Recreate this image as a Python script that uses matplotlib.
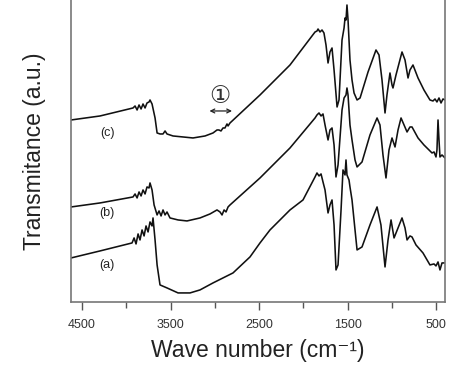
import matplotlib
matplotlib.use("Agg")
from matplotlib import pyplot as plt
from matplotlib.ticker import FixedLocator

plt.rcParams['font.family'] = ['Liberation Sans', 'DejaVu Sans']

# spectrum (c)
wn_c = [4624, 4297, 3924, 3901, 3878, 3856, 3833, 3811, 3788, 3766, 3743, 3732,
        3709, 3675, 3652, 3619, 3585, 3562, 3540, 3472, 3359, 3246, 3110, 3020,
        2975, 2953, 2930, 2907, 2885, 2862, 2850, 2828, 2489, 2150, 1867, 1845,
        1833, 1811, 1788, 1766, 1743, 1720, 1698, 1675, 1652, 1618, 1596, 1562,
        1539, 1528, 1517, 1506, 1494, 1472, 1449, 1426, 1392, 1358, 1268, 1178,
        1144, 1110, 1076, 1054, 1020, 997, 986, 952, 884, 850, 816, 794, 760, 703,
        636, 568, 534, 511, 489, 466, 443, 421, 398]
t_c = [182, 186, 194, 196, 192, 197, 193, 198, 194, 199, 200, 202, 198, 184, 169,
       168, 168, 171, 168, 166, 165, 164, 166, 169, 172, 172, 171, 174, 174, 178,
       176, 179, 207, 237, 270, 271, 273, 270, 272, 269, 257, 239, 250, 254, 232,
       195, 202, 262, 274, 284, 282, 297, 282, 242, 222, 209, 202, 204, 230, 252,
       247, 222, 189, 207, 229, 217, 214, 227, 250, 242, 224, 232, 237, 224, 212,
       202, 201, 203, 200, 204, 199, 203, 202]

# spectrum (b)
wn_b = [4624, 4297, 3924, 3901, 3878, 3856, 3833, 3811, 3788, 3766, 3743, 3732,
        3709, 3686, 3652, 3630, 3607, 3585, 3562, 3540, 3506, 3415, 3314, 3167,
        3054, 2975, 2941, 2918, 2895, 2873, 2850, 2828, 2489, 2150, 1867, 1845,
        1822, 1799, 1777, 1754, 1720, 1698, 1675, 1652, 1630, 1607, 1562, 1539,
        1517, 1506, 1494, 1472, 1449, 1415, 1392, 1336, 1246, 1166, 1133, 1099,
        1065, 1031, 997, 963, 929, 895, 861, 827, 794, 771, 703, 636, 579, 545,
        522, 500, 489, 477, 466, 455, 432, 398]
t_b = [95, 99, 105, 108, 104, 110, 106, 112, 108, 115, 114, 119, 112, 97, 87, 91,
       86, 92, 87, 90, 84, 82, 81, 84, 88, 92, 90, 87, 92, 90, 95, 97, 124, 154,
       184, 187, 189, 186, 188, 177, 162, 172, 174, 157, 125, 137, 192, 204, 207,
       214, 207, 177, 162, 142, 135, 140, 167, 184, 177, 147, 124, 152, 164, 155,
       172, 184, 177, 170, 175, 175, 164, 157, 152, 149, 150, 145, 152, 182, 162,
       145, 147, 144]

# spectrum (a)
wn_a = [4624, 4297, 3935, 3912, 3890, 3867, 3845, 3822, 3799, 3777, 3754, 3732,
        3709, 3698, 3675, 3652, 3619, 3540, 3415, 3280, 3167, 3020, 2794, 2602,
        2489, 2376, 2150, 2003, 1867, 1845, 1822, 1799, 1777, 1754, 1720, 1698,
        1675, 1652, 1630, 1607, 1573, 1551, 1528, 1517, 1506, 1483, 1472, 1449,
        1415, 1392, 1336, 1246, 1166, 1122, 1076, 1042, 1008, 974, 929, 884, 850,
        827, 794, 771, 726, 647, 568, 522, 500, 477, 455, 432, 398]
t_a = [44, 51, 59, 64, 58, 68, 62, 72, 66, 76, 70, 80, 76, 84, 62, 37, 17, 14, 9,
       9, 12, 19, 29, 45, 59, 72, 92, 102, 125, 129, 126, 128, 120, 112, 89, 97,
       102, 77, 32, 37, 92, 132, 127, 142, 127, 122, 115, 102, 72, 52, 55, 77, 95,
       77, 35, 62, 82, 64, 74, 84, 74, 62, 66, 65, 57, 49, 37, 38, 36, 40, 32, 39,
       39]

labels = ['(a)', '(b)', '(c)']
label_wn = 4218
label_t = [37, 89, 169]
major_ticks = [4500, 3500, 2500, 1500, 500]
minor_ticks = [4000, 3000, 2000, 1000]

fig = plt.figure(figsize=(4.56, 3.76), dpi=100)
ax = fig.add_axes([0.1557, 0.197, 0.8202, 0.803])

for wn, t in [(wn_a, t_a), (wn_b, t_b), (wn_c, t_c)]:
    ax.plot(wn, t, color='#111111', lw=1.15)

for lab, ty in zip(labels, label_t):
    ax.text(label_wn, ty, lab, fontsize=9, ha='center', va='center', color='#222222')

# band marker (1)
ax.text(2941, 206, '\u2460', fontsize=17, ha='center', va='center', color='#333333',
        family=['DejaVu Sans'])
ax.annotate('', xy=(2805, 191), xytext=(3060, 191),
            arrowprops=dict(arrowstyle='<->', color='#222222', lw=0.9,
                            shrinkA=0, shrinkB=0, mutation_scale=7))

ax.set_xlim(4625, 398)
ax.set_ylim(0, 302)
ax.xaxis.set_major_locator(FixedLocator(major_ticks))
ax.xaxis.set_minor_locator(FixedLocator(minor_ticks))
ax.tick_params(axis='x', which='major', length=6, width=1, color='#555555',
               labelsize=9, labelcolor='#333333', pad=6)
ax.tick_params(axis='x', which='minor', length=4, width=1, color='#555555')
ax.set_yticks([])
ax.spines['top'].set_visible(False)
for s in ['left', 'right', 'bottom']:
    ax.spines[s].set_color('#777777')
    ax.spines[s].set_linewidth(1.2)

ax.set_xlabel('Wave number (cm\u207b\u00b9)', fontsize=16.5, color='#222222',
              labelpad=6)
ax.set_ylabel('Transmitance (a.u.)', fontsize=16.5, color='#222222', labelpad=18)

fig.savefig('out.png', dpi=100)
